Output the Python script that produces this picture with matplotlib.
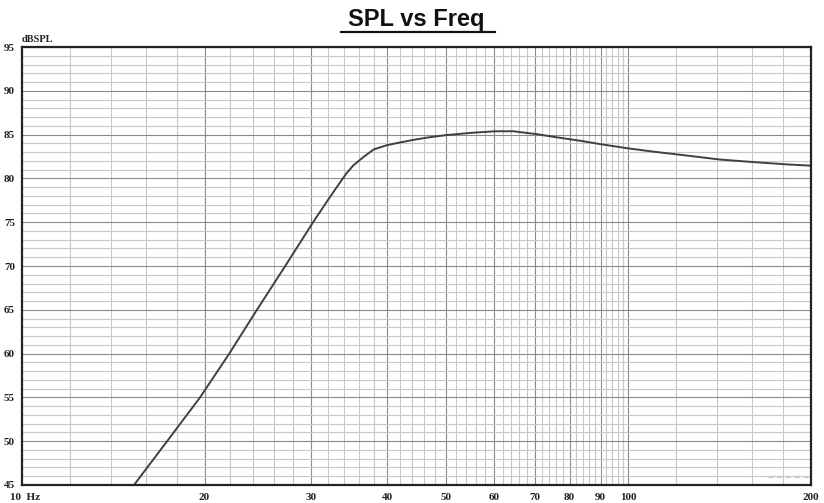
import numpy as np
import matplotlib
matplotlib.use("Agg")
import matplotlib.pyplot as plt
from matplotlib.lines import Line2D

# SPL response
freq = [15.3, 17.35, 19.66, 21.97, 24.4, 27.17, 30.2, 32.0, 33.5, 34.3, 35.2,
        36.5, 38.0, 40.0, 42.0, 44.2, 47.0, 50.2, 55.0, 60.3, 64.6, 70.6,
        76.0, 83.2, 90.1, 99.4, 110.0, 121.7, 141.6, 161.8, 182.4, 200.0]
spl = [45.0, 50.0, 55.0, 60.0, 65.0, 70.0, 75.0, 77.6, 79.6, 80.6, 81.5,
       82.4, 83.3, 83.8, 84.1, 84.4, 84.7, 84.95, 85.2, 85.38, 85.38, 85.05,
       84.7, 84.3, 83.9, 83.45, 83.05, 82.7, 82.15, 81.85, 81.6, 81.45]

# faint dashed trace at the bottom right
trace_freq = [170.0, 200.0]
trace_spl = [45.9, 45.9]

x_major = [20, 30, 40, 50, 60, 70, 80, 90, 100, 200]
x_labels = ["20", "30", "40", "50", "60", "70", "80", "90", "100", "200"]
x_minor = [f for f in range(12, 100, 2) if f % 10] + [120, 140, 160, 180]
y_major = list(range(45, 100, 5))
y_minor = list(range(45, 96))

W, H = 824, 503
fig = plt.figure(figsize=(W / 100, H / 100), dpi=100)
left, right, top, bottom = 22, 811, 47, 485
ax = fig.add_axes([left / W, 1 - bottom / H, (right - left) / W, (bottom - top) / H])

ax.set_xscale("log")
ax.set_xlim(10, 200)
ax.set_ylim(45, 95)

ax.set_xticks(x_major)
ax.set_xticklabels(x_labels)
ax.set_xticks(x_minor, minor=True)
ax.xaxis.set_minor_formatter(matplotlib.ticker.NullFormatter())
ax.set_yticks(y_major)
ax.set_yticks(y_minor, minor=True)

ax.grid(which="minor", color="#c8c8c8", linewidth=0.8)
ax.grid(which="major", color="#8a8a8a", linewidth=0.8)
ax.set_axisbelow(True)

ax.tick_params(which="both", length=0)
ax.tick_params(axis="x", pad=6)
ax.tick_params(axis="y", pad=5)
for lab in ax.get_xticklabels() + ax.get_yticklabels():
    lab.set_fontfamily("Liberation Serif")
    lab.set_fontweight("bold")
    lab.set_fontsize(8)
    lab.set_color("#222222")

for sp in ax.spines.values():
    sp.set_linewidth(1.6)
    sp.set_color("#222222")

ax.plot(trace_freq, trace_spl, color="#c8c8c8", linewidth=0.9, linestyle=(0, (4, 3)))
ax.plot(freq, spl, color="#404040", linewidth=1.4, solid_joinstyle="round")

fig.text(10 / W, 1 - 497 / H, "10  Hz", family="Liberation Serif", fontweight="bold",
         fontsize=8, color="#222222", ha="left", va="center")
fig.text(22 / W, 1 - 39 / H, "dBSPL", family="Liberation Serif", fontweight="bold",
         fontsize=7.5, color="#222222", ha="left", va="center")

cx = (left + right) / 2 / W
fig.text(cx, 1 - 26 / H, "SPL vs Freq", family="Liberation Sans", fontweight="bold",
         fontsize=17, color="#111111", ha="center", va="baseline")
fig.add_artist(Line2D([341 / W, 495 / W], [1 - 32 / H, 1 - 32 / H],
                      color="#111111", linewidth=1.6, transform=fig.transFigure))

fig.savefig("out.png", dpi=100)
